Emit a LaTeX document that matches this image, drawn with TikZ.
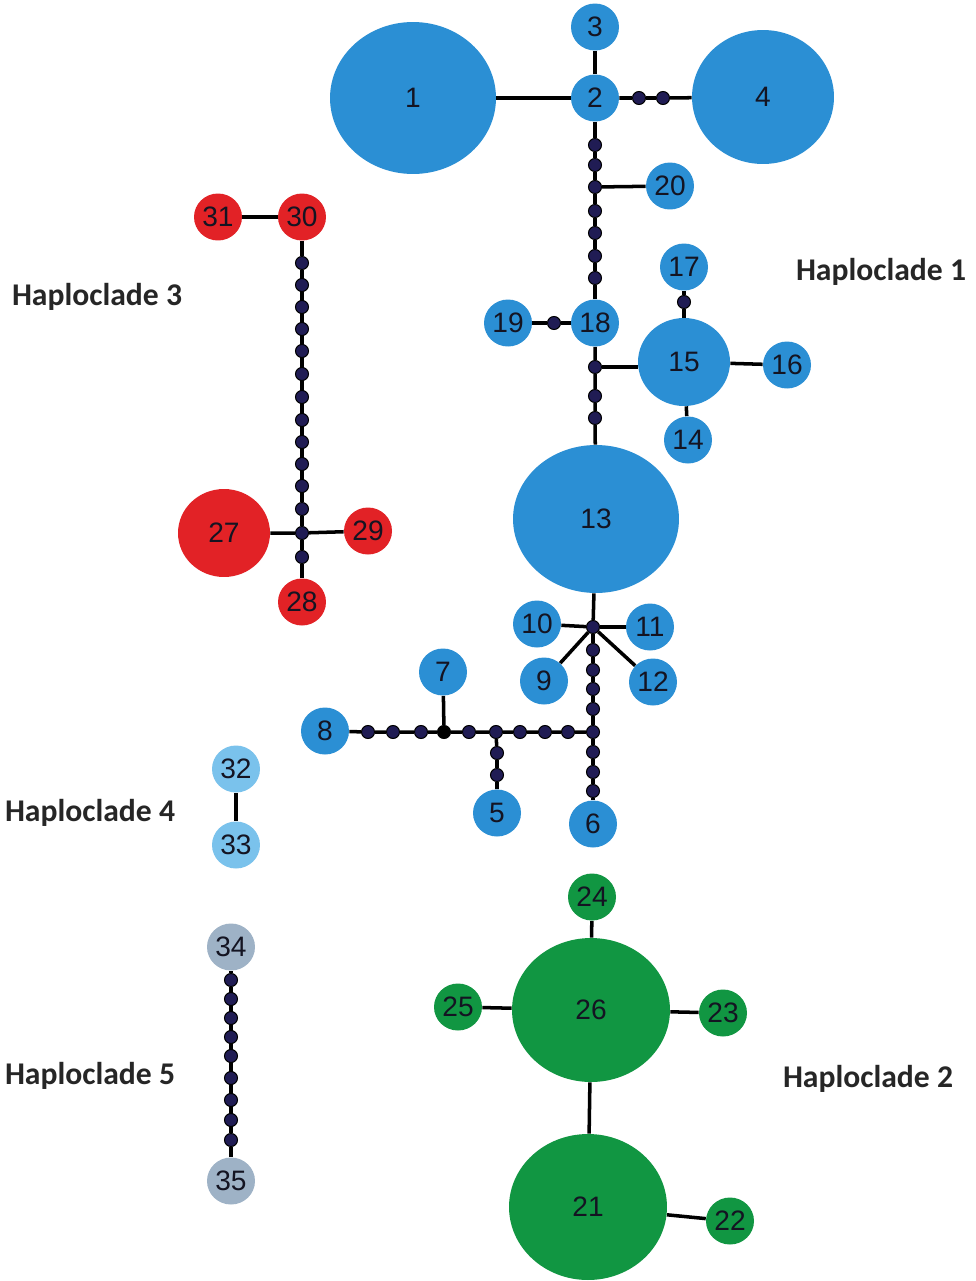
\documentclass[tikz,border=0pt]{standalone}
\usepackage{fontspec}
\newfontfamily\numfont{Liberation Sans}
\newfontfamily\labfont{Carlito}
\usetikzlibrary{shapes.geometric,backgrounds}
\definecolor{hblue}{RGB}{43,143,212}
\definecolor{hred}{RGB}{226,34,38}
\definecolor{hgreen}{RGB}{17,150,66}
\definecolor{hlight}{RGB}{122,194,236}
\definecolor{hgray}{RGB}{158,178,198}
\definecolor{dotc}{RGB}{32,28,84}
\definecolor{numc}{RGB}{20,20,34}
\begin{document}
\begin{tikzpicture}[x=0.02cm,y=-0.02cm,
  hap/.style={ellipse, inner sep=0pt, draw=none, text=numc,
    font=\numfont\fontsize{16}{16}\selectfont,
    minimum width=0.96cm, minimum height=0.94cm},
  hsz/.style n args={2}{minimum width=#1cm, minimum height=#2cm},
  blu/.style={hap, fill=hblue},
  rd/.style={hap, fill=hred},
  grn/.style={hap, fill=hgreen},
  lbl/.style={hap, fill=hlight},
  gry/.style={hap, fill=hgray},
  mv/.style={circle, fill=dotc, draw=black, line width=0.6pt, inner sep=0pt, minimum size=0.26cm},
  mvb/.style={mv, fill=black},
  link/.style={line width=2pt, black},
  clade/.style={font=\labfont\bfseries\fontsize{18}{18}\selectfont, text=black!85}]
\useasboundingbox (0,0) rectangle (976,1281);

% ---------- Haploclade 1 ----------
\node[blu, hsz={3.32}{3.04}] (h1) at (413,98) {1};
\node[blu] (h2) at (595,98) {2};
\node[blu] (h3) at (595,27) {3};
\node[blu, hsz={2.84}{2.68}] (h4) at (763,97) {4};
\node[mv] (b1) at (639,98) {};
\node[mv] (b2) at (663,98) {};
\node[mv] (a1) at (595,145) {};
\node[mv] (a2) at (595,165) {};
\node[mv] (j20) at (595,187) {};
\node[mv] (a4) at (595,211) {};
\node[mv] (a5) at (595,233) {};
\node[mv] (a6) at (595,256) {};
\node[mv] (a7) at (595,278) {};
\node[blu] (h20) at (670,186) {20};
\node[blu] (h18) at (595,323) {18};
\node[blu] (h19) at (508,323) {19};
\node[mv] (c1) at (554,323) {};
\node[mv] (j15) at (595,367) {};
\node[mv] (d2) at (595,396) {};
\node[mv] (d3) at (595,418) {};
\node[blu, hsz={1.84}{1.76}] (h15) at (684,362) {15};
\node[blu] (h17) at (684,267) {17};
\node[mv] (e1) at (684,302) {};
\node[blu] (h16) at (787,365) {16};
\node[blu] (h14) at (688,440) {14};
\node[blu, hsz={3.32}{2.96}] (h13) at (596,519) {13};
\node[mv] (j13) at (593,627) {};
\node[blu] (h10) at (537,624) {10};
\node[blu] (h11) at (650,627) {11};
\node[blu] (h9) at (544,681) {9};
\node[blu] (h12) at (653,682) {12};
\foreach \yy [count=\i] in {650,670,689,709}
  \node[mv] (f\i) at (593,\yy) {};
\node[mv] (j6) at (593,732) {};
\foreach \yy [count=\i] in {752,772,791}
  \node[mv] (g\i) at (593,\yy) {};
\node[blu] (h6) at (593,824) {6};
\foreach \xx [count=\i] in {368,393,421}
  \node[mv] (k\i) at (\xx,732) {};
\node[mvb] (j7) at (444,732) {};
\node[mv] (k4) at (469,732) {};
\node[mv] (j5) at (496,732) {};
\foreach \xx [count=\i from 5] in {520,545,568}
  \node[mv] (k\i) at (\xx,732) {};
\node[blu] (h8) at (325,731) {8};
\node[blu] (h7) at (443,672) {7};
\node[mv] (m1) at (497,753) {};
\node[mv] (m2) at (497,775) {};
\node[blu] (h5) at (497,813) {5};

% ---------- Haploclade 3 ----------
\node[rd] (h31) at (218,217) {31};
\node[rd] (h30) at (302,217) {30};
\foreach \yy [count=\i] in {263,285,307,329,351,374,397,420,442,464,486,509}
  \node[mv] (r\i) at (302,\yy) {};
\node[mv] (j27) at (302,533) {};
\node[mv] (r13) at (302,557) {};
\node[rd] (h28) at (302,602) {28};
\node[rd, hsz={1.84}{1.76}] (h27) at (224,533) {27};
\node[rd] (h29) at (368,531) {29};

% ---------- Haploclade 4 ----------
\node[lbl] (h32) at (236,769) {32};
\node[lbl] (h33) at (236,845) {33};

% ---------- Haploclade 5 ----------
\node[gry] (h34) at (231,947) {34};
\foreach \yy [count=\i] in {980,999,1018,1037,1056,1078,1100,1120,1140}
  \node[mv] (s\i) at (231,\yy) {};
\node[gry] (h35) at (231,1181) {35};

% ---------- Haploclade 2 ----------
\node[grn] (h24) at (592,897) {24};
\node[grn, hsz={3.16}{2.88}] (h26) at (591,1010) {26};
\node[grn] (h25) at (458,1007) {25};
\node[grn] (h23) at (723,1013) {23};
\node[grn, hsz={3.16}{2.92}] (h21) at (588,1207) {21};
\node[grn] (h22) at (730,1221) {22};

% ---------- clade labels ----------
\node[clade] (l1) at (881,272) {Haploclade 1};
\node[clade] (l3) at (97,297) {Haploclade 3};
\node[clade] (l4) at (90,813) {Haploclade 4};
\node[clade] (l5) at (90,1076) {Haploclade 5};
\node[clade] (l2) at (868,1079) {Haploclade 2};

% ---------- connectors ----------
\begin{scope}[on background layer]
\fill[white] (0,0) rectangle (976,1281);
\draw[link] (h1) -- (h2);
\draw[link] (h3) -- (h2);
\draw[link] (h2) -- (b1) -- (b2) -- (h4);
\draw[link] (h2) -- (a1) -- (a2) -- (j20) -- (a4) -- (a5) -- (a6) -- (a7) -- (h18);
\draw[link] (j20) -- (h20);
\draw[link] (h19) -- (c1) -- (h18);
\draw[link] (h18) -- (j15) -- (d2) -- (d3) -- (h13);
\draw[link] (j15) -- (j15 -| h15.west);
\draw[link] (h17) -- (e1) -- (h15);
\draw[link] (h15) -- (h16);
\draw[link] (h15) -- (h14);
\draw[link] (h13) -- (j13);
\draw[link] (j13) -- (h10);
\draw[link] (j13) -- (h11);
\draw[link] (j13) -- (h9);
\draw[link] (j13) -- (h12);
\draw[link] (j13) -- (f1) -- (f2) -- (f3) -- (f4) -- (j6) -- (g1) -- (g2) -- (g3) -- (h6);
\draw[link] (h8) -- (k1) -- (k2) -- (k3) -- (j7) -- (k4) -- (j5) -- (k5) -- (k6) -- (k7) -- (j6);
\draw[link] (h7) -- (j7);
\draw[link] (j5) -- (m1) -- (m2) -- (h5);
\draw[link] (h31) -- (h30);
\draw[link] (h30) -- (r1);
\draw[link] (r1) -- (r12);
\draw[link] (r12) -- (j27) -- (r13) -- (h28);
\draw[link] (h27) -- (j27) -- (h29);
\draw[link] (h32) -- (h33);
\draw[link] (h34) -- (s1);
\draw[link] (s1) -- (s9);
\draw[link] (s9) -- (h35);
\draw[link] (h24) -- (h26);
\draw[link] (h25) -- (h26);
\draw[link] (h26) -- (h23);
\draw[link] (h26) -- (h21);
\draw[link] (h21) -- (h22);
\end{scope}
\end{tikzpicture}
\end{document}
